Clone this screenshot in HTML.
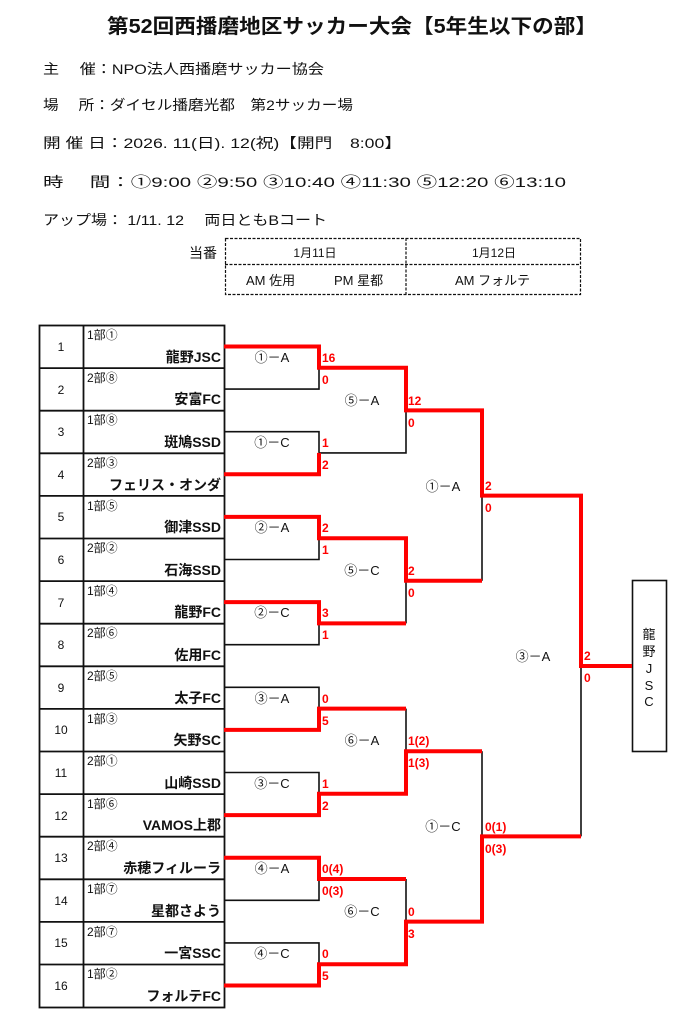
<!DOCTYPE html>
<html><head><meta charset="utf-8"><style>
html,body{margin:0;padding:0;background:#fff;}
svg{display:block;font-family:"Liberation Sans","Noto Sans CJK JP",sans-serif;}
.t{font-size:14px;fill:#111;}
.r{fill:#f00;font-weight:bold;font-size:12px;}
</style></head><body>
<svg width="692" height="1024" viewBox="0 0 692 1024" xmlns="http://www.w3.org/2000/svg">
<text x="107" y="33" textLength="490" lengthAdjust="spacingAndGlyphs" font-size="20" font-weight="bold" fill="#111">第52回西播磨地区サッカー大会【5年生以下の部】</text>
<text class="t" x="43" y="74" textLength="281" lengthAdjust="spacingAndGlyphs">主　 催：NPO法人西播磨サッカー協会</text>
<text class="t" x="43" y="110" textLength="310" lengthAdjust="spacingAndGlyphs">場　 所：ダイセル播磨光都　第2サッカー場</text>
<text class="t" x="43" y="148" textLength="359" lengthAdjust="spacingAndGlyphs">開 催 日：2026. 11(日). 12(祝)【開門　8:00】</text>
<text class="t" x="43" y="187" textLength="523" lengthAdjust="spacingAndGlyphs">時　 間：①9:00  ②9:50  ③10:40  ④11:30  ⑤12:20  ⑥13:10</text>
<text class="t" x="43" y="225" textLength="284" lengthAdjust="spacingAndGlyphs">アップ場：  1/11. 12　 両日ともBコート</text>
<text class="t" x="189" y="258">当番</text>
<g fill="none" stroke="#111" stroke-width="1.2" stroke-dasharray="3,1.5">
<rect x="225.5" y="238.5" width="355" height="56"/>
<line x1="225" y1="264.5" x2="580" y2="264.5"/>
<line x1="406" y1="238" x2="406" y2="295"/>
</g>
<text x="315" y="257" text-anchor="middle" font-size="12" fill="#111">1月11日</text>
<text x="494" y="257" text-anchor="middle" font-size="12" fill="#111">1月12日</text>
<text x="246" y="285" font-size="13" fill="#111">AM  佐用</text>
<text x="334" y="285" font-size="13" fill="#111">PM 星都</text>
<text x="455" y="285" font-size="13" fill="#111">AM  フォルテ</text>

<g stroke="#111" stroke-width="1.8" fill="none">
<rect x="39.5" y="325.5" width="185" height="682"/>
<line x1="83.5" y1="325" x2="83.5" y2="1007"/>
<line x1="39" y1="368.1" x2="224" y2="368.1"/><line x1="39" y1="410.7" x2="224" y2="410.7"/>
<line x1="39" y1="453.3" x2="224" y2="453.3"/><line x1="39" y1="495.9" x2="224" y2="495.9"/>
<line x1="39" y1="538.5" x2="224" y2="538.5"/><line x1="39" y1="581.1" x2="224" y2="581.1"/>
<line x1="39" y1="623.7" x2="224" y2="623.7"/><line x1="39" y1="666.3" x2="224" y2="666.3"/>
<line x1="39" y1="708.9" x2="224" y2="708.9"/><line x1="39" y1="751.5" x2="224" y2="751.5"/>
<line x1="39" y1="794.1" x2="224" y2="794.1"/><line x1="39" y1="836.7" x2="224" y2="836.7"/>
<line x1="39" y1="879.3" x2="224" y2="879.3"/><line x1="39" y1="921.9" x2="224" y2="921.9"/>
<line x1="39" y1="964.5" x2="224" y2="964.5"/>
</g>
<g font-size="12" fill="#111" text-anchor="middle">
<text x="61" y="351">1</text><text x="61" y="394">2</text><text x="61" y="436">3</text><text x="61" y="479">4</text>
<text x="61" y="521">5</text><text x="61" y="564">6</text><text x="61" y="607">7</text><text x="61" y="649">8</text>
<text x="61" y="692">9</text><text x="61" y="734">10</text><text x="61" y="777">11</text><text x="61" y="820">12</text>
<text x="61" y="862">13</text><text x="61" y="905">14</text><text x="61" y="947">15</text><text x="61" y="990">16</text>
</g>
<g font-size="12" fill="#111">
<text x="87" y="339">1部①</text><text x="87" y="382">2部⑧</text><text x="87" y="424">1部⑧</text><text x="87" y="467">2部③</text>
<text x="87" y="510">1部⑤</text><text x="87" y="552">2部②</text><text x="87" y="595">1部④</text><text x="87" y="637">2部⑥</text>
<text x="87" y="680">2部⑤</text><text x="87" y="723">1部③</text><text x="87" y="765">2部①</text><text x="87" y="808">1部⑥</text>
<text x="87" y="850">2部④</text><text x="87" y="893">1部⑦</text><text x="87" y="936">2部⑦</text><text x="87" y="978">1部②</text>
</g>
<g font-size="14" font-weight="bold" fill="#111" text-anchor="end">
<text x="221" y="362">龍野JSC</text><text x="221" y="404">安富FC</text><text x="221" y="447">斑鳩SSD</text><text x="221" y="490">フェリス・オンダ</text>
<text x="221" y="532">御津SSD</text><text x="221" y="575">石海SSD</text><text x="221" y="617">龍野FC</text><text x="221" y="660">佐用FC</text>
<text x="221" y="703">太子FC</text><text x="221" y="745">矢野SC</text><text x="221" y="788">山崎SSD</text><text x="221" y="830">VAMOS上郡</text>
<text x="221" y="873">赤穂フィルーラ</text><text x="221" y="916">星都さよう</text><text x="221" y="958">一宮SSC</text><text x="221" y="1001">フォルテFC</text>
</g>

<g stroke="#111" stroke-width="1.6" fill="none">
<path d="M224 389.1H319V367.8"/>
<path d="M224 431.7H319V452.9"/>
<path d="M224 559.5H319V538.2"/>
<path d="M224 644.7H319V623.4"/>
<path d="M224 687.3H319V708.6"/>
<path d="M224 772.5H319V793.8"/>
<path d="M224 900.3H319V879"/>
<path d="M224 942.9H319V964.2"/>
<path d="M319 452.9H406V410.4"/>
<path d="M406 623.4V580.8"/>
<path d="M406 708.6V751.2"/>
<path d="M406 879V921.6"/>
<path d="M482 580.8V495.6"/>
<path d="M482 751.2V836.4"/>
<path d="M581 836.4V666"/>
<rect x="632.5" y="580.5" width="34" height="171"/>
</g>
<g stroke="#f00" stroke-width="4" fill="none" stroke-linejoin="miter">
<path d="M224 346.5H319V367.8H406V410.4H482V495.6H581V666H632"/>
<path d="M224 474.3H319V452.9"/>
<path d="M224 516.9H319V538.2H406V580.8H482"/>
<path d="M224 602.1H319V623.4H406"/>
<path d="M224 729.9H319V708.6H406"/>
<path d="M224 815.1H319V793.8H406V751.2H482"/>
<path d="M224 857.7H319V879H406"/>
<path d="M224 985.5H319V964.2H406V921.6H482V836.4H581"/>
</g>
<g class="r">
<text x="322" y="362">16</text><text x="322" y="384">0</text>
<text x="322" y="447">1</text><text x="322" y="469">2</text>
<text x="322" y="532">2</text><text x="322" y="554">1</text>
<text x="322" y="617">3</text><text x="322" y="639">1</text>
<text x="322" y="703">0</text><text x="322" y="725">5</text>
<text x="322" y="788">1</text><text x="322" y="810">2</text>
<text x="322" y="873">0(4)</text><text x="322" y="895">0(3)</text>
<text x="322" y="958">0</text><text x="322" y="980">5</text>
<text x="408" y="405">12</text><text x="408" y="427">0</text>
<text x="408" y="575">2</text><text x="408" y="597">0</text>
<text x="408" y="745">1(2)</text><text x="408" y="767">1(3)</text>
<text x="408" y="916">0</text><text x="408" y="938">3</text>
<text x="485" y="490">2</text><text x="485" y="512">0</text>
<text x="485" y="831">0(1)</text><text x="485" y="853">0(3)</text>
<text x="584" y="660">2</text><text x="584" y="682">0</text>
</g>
<g font-size="13" fill="#111" text-anchor="middle">
<text x="272" y="362">①－A</text><text x="272" y="447">①－C</text>
<text x="272" y="532">②－A</text><text x="272" y="617">②－C</text>
<text x="272" y="703">③－A</text><text x="272" y="788">③－C</text>
<text x="272" y="873">④－A</text><text x="272" y="958">④－C</text>
<text x="362" y="405">⑤－A</text><text x="362" y="575">⑤－C</text>
<text x="362" y="745">⑥－A</text><text x="362" y="916">⑥－C</text>
<text x="443" y="491">①－A</text><text x="443" y="831">①－C</text>
<text x="533" y="661">③－A</text>
</g>
<g font-size="13" fill="#111" text-anchor="middle">
<text x="649" y="639">龍</text><text x="649" y="656">野</text><text x="649" y="673">J</text><text x="649" y="690">S</text><text x="649" y="706">C</text>
</g>
</svg>
</body></html>
